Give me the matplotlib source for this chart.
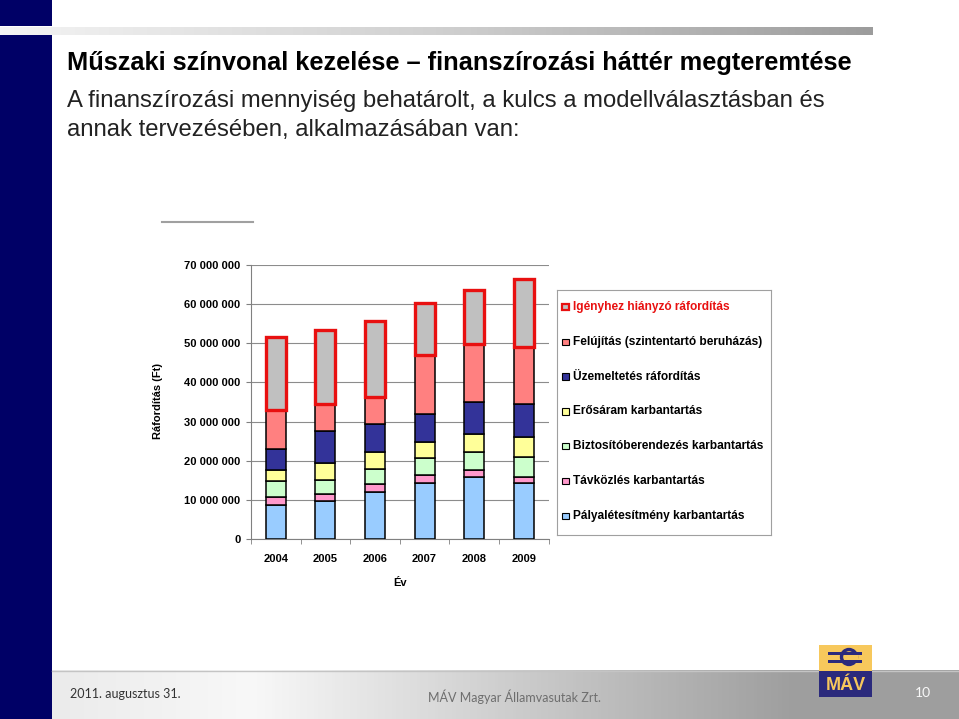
import matplotlib
matplotlib.use("Agg")
import matplotlib.pyplot as plt
import numpy as np
from matplotlib.patches import Rectangle, Circle
from matplotlib.colors import LinearSegmentedColormap
from matplotlib.ticker import FixedLocator, FuncFormatter

# Data (millió Ft)
years = ["2004", "2005", "2006", "2007", "2008", "2009"]
palya = [8.6, 9.6, 12.0, 14.2, 15.8, 14.2]
tavkozles = [2.2, 1.9, 2.0, 2.2, 1.8, 1.6]
biztosito = [3.9, 3.5, 3.9, 4.2, 4.6, 5.1]
erosaram = [2.9, 4.5, 4.3, 4.2, 4.6, 5.1]
uzemeltetes = [5.4, 8.0, 7.3, 7.1, 8.1, 8.5]
felujitas = [10.0, 7.0, 6.7, 15.0, 14.8, 14.6]
hianyzo = [18.7, 19.0, 19.4, 13.3, 13.9, 17.3]

series = [
    ("Pályalétesítmény karbantartás", palya, "#99CCFF"),
    ("Távközlés karbantartás", tavkozles, "#FF99CC"),
    ("Biztosítóberendezés karbantartás", biztosito, "#CCFFCC"),
    ("Erősáram karbantartás", erosaram, "#FFFF99"),
    ("Üzemeltetés ráfordítás", uzemeltetes, "#333399"),
    ("Felújítás (szintentartó beruházás)", felujitas, "#FF8080"),
    ("Igényhez hiányzó ráfordítás", hianyzo, "#C0C0C0"),
]

title = "Műszaki színvonal kezelése – finanszírozási háttér megteremtése"
subtitle = ["A finanszírozási mennyiség behatárolt, a kulcs a modellválasztásban és",
            "annak tervezésében, alkalmazásában van:"]

W, H = 959, 719
fig = plt.figure(figsize=(W / 100, H / 100), dpi=100)
fig.patch.set_facecolor("white")

# slide decoration in pixel coordinates
bg = fig.add_axes([0, 0, 1, 1])
bg.set_xlim(0, W)
bg.set_ylim(H, 0)
bg.axis("off")
navy = "#000066"
bg.add_patch(Rectangle((0, 0), 52, 26, color=navy, lw=0))
bg.add_patch(Rectangle((0, 35), 52, H - 35, color=navy, lw=0))
top_cm = LinearSegmentedColormap.from_list("t", ["#f4f4f4", "#d0d0d0", "#9c9c9c"])
bg.imshow(np.linspace(0, 1, 256)[None, :], cmap=top_cm, aspect="auto",
          extent=(0, 873, 35, 27), zorder=1)
foot_cm = LinearSegmentedColormap.from_list(
    "f", [(0, "#ebebeb"), (0.22, "#f8f8f8"), (0.82, "#9e9e9e"), (1, "#9e9e9e")])
bg.imshow(np.linspace(0, 1, 256)[None, :], cmap=foot_cm, aspect="auto",
          extent=(52, W, 719, 670), zorder=1)
bg.plot([52, W], [670.5, 670.5], color="#c4c4c4", lw=1, zorder=2)
bg.plot([162, 253], [222, 222], color="#a0a0a0", lw=1.5)

# MÁV logo
logo_y = "#F7C85C"
logo_n = "#2B2A7C"
bg.add_patch(Rectangle((819, 645), 53, 26, color=logo_y, lw=0, zorder=3))
bg.add_patch(Rectangle((819, 671), 53, 26, color=logo_n, lw=0, zorder=3))
bg.add_patch(Circle((849, 657), 7.5, fill=False, ec=logo_n, lw=2.4, zorder=4))
bg.add_patch(Rectangle((828, 652), 34, 3, color=logo_n, lw=0, zorder=5))
bg.add_patch(Rectangle((828, 659.5), 34, 3, color=logo_n, lw=0, zorder=5))
bg.add_patch(Rectangle((853, 654.5), 5, 5.5, color=logo_y, lw=0, zorder=6))
bg.text(846, 685, "MÁV", color=logo_y, fontsize=13, fontweight="bold",
        family="Liberation Sans", ha="center", va="center", zorder=5)

# titles and footer texts
fig.text(67 / W, 1 - 63 / H, title, fontsize=18.3, fontweight="bold",
         family="Liberation Sans", va="center", ha="left")
fig.text(67 / W, 1 - 101 / H, subtitle[0], fontsize=17.2, color="#222222",
         family="Liberation Sans", va="center", ha="left")
fig.text(67 / W, 1 - 130 / H, subtitle[1], fontsize=17.2, color="#222222",
         family="Liberation Sans", va="center", ha="left")
fig.text(70 / W, 1 - 694 / H, "2011. augusztus 31.", fontsize=9, color="#333333",
         family="Lato", va="center", ha="left")
fig.text(515 / W, 1 - 697 / H, "MÁV Magyar Államvasutak Zrt.", fontsize=9,
         color="#6e6e6e", family="Lato", va="center", ha="center")
fig.text(923 / W, 1 - 693 / H, "10", fontsize=10, color="#f8f8f8",
         family="Lato", va="center", ha="center")

# chart
ax = fig.add_axes([251 / W, 1 - 539 / H, 297.6 / W, 274 / H])
x = np.arange(len(years))
bottom = np.zeros(len(years))
for i, (label, vals, color) in enumerate(series):
    v = np.array(vals) * 1e6
    if i == len(series) - 1:
        ax.bar(x, v, 0.4, bottom=bottom, color=color, edgecolor="#E81010",
               linewidth=2.4, zorder=3)
    else:
        ax.bar(x, v, 0.4, bottom=bottom, color=color, edgecolor="black",
               linewidth=1.1, zorder=3)
    bottom += v

ax.set_xlim(-0.5, len(years) - 0.5)
ax.set_ylim(0, 70e6)
ax.set_yticks(np.arange(0, 70e6 + 1, 10e6))
ax.yaxis.set_major_formatter(FuncFormatter(lambda v, p: f"{int(v):,}".replace(",", " ")))
ax.grid(axis="y", color="#8c8c8c", lw=0.8, zorder=0)
ax.set_xticks(x)
ax.set_xticklabels(years)
ax.xaxis.set_minor_locator(FixedLocator(np.arange(-0.5, len(years), 1.0)))
ax.tick_params(axis="x", which="major", length=0, pad=11)
ax.tick_params(axis="x", which="minor", length=3.5, color="#808080", direction="out")
ax.tick_params(axis="y", length=3.5, color="#808080", pad=4)
for lab in ax.get_xticklabels() + ax.get_yticklabels():
    lab.set_fontsize(8)
    lab.set_fontweight("bold")
    lab.set_family("Liberation Sans")
for s in ["top", "right"]:
    ax.spines[s].set_visible(False)
for s in ["left", "bottom"]:
    ax.spines[s].set_color("#808080")
ax.set_ylabel("Ráfordítás (Ft)", fontsize=8, fontweight="bold", family="Liberation Sans")
ax.yaxis.set_label_coords(-0.296, 0.504)
ax.set_xlabel("Év", fontsize=8, fontweight="bold", family="Liberation Sans")
ax.xaxis.set_label_coords(0.5, -0.142)

# legend box
lg = fig.add_axes([557 / W, 1 - 535 / H, 214 / W, 245 / H])
lg.set_xticks([])
lg.set_yticks([])
for s in lg.spines.values():
    s.set_color("#a0a0a0")
    s.set_linewidth(0.8)
for k, (label, vals, color) in enumerate(reversed(series)):
    yc = 0.931 - k * 0.1422
    if k == 0:
        lg.add_patch(Rectangle((0.025, yc - 0.013), 0.029, 0.026, facecolor=color,
                               edgecolor="#E81010", lw=1.6, transform=lg.transAxes))
        tc = "#E81010"
    else:
        lg.add_patch(Rectangle((0.025, yc - 0.013), 0.029, 0.026, facecolor=color,
                               edgecolor="black", lw=0.8, transform=lg.transAxes))
        tc = "black"
    lg.text(0.075, yc, label, transform=lg.transAxes, fontsize=8.6, fontweight="bold",
            family="Liberation Sans", color=tc, va="center", ha="left")

fig.savefig("out.png", dpi=100)
